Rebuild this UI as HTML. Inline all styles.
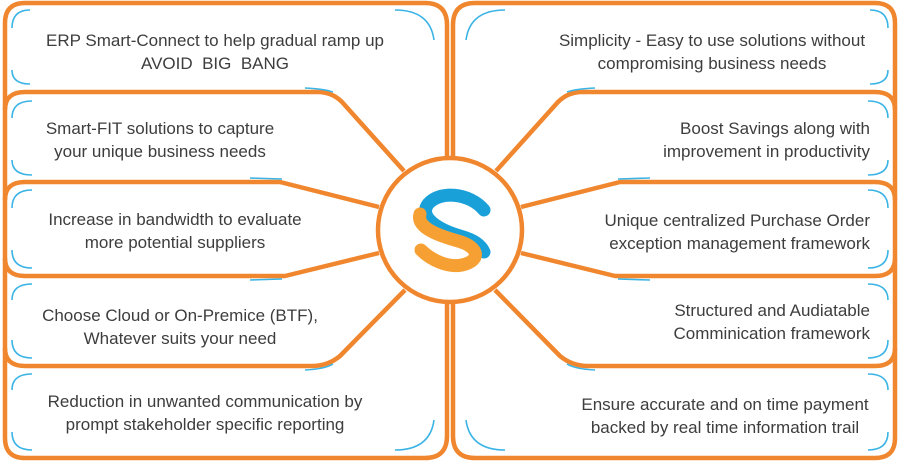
<!DOCTYPE html>
<html><head><meta charset="utf-8"><style>
html,body{margin:0;padding:0;background:#fff;}
svg{display:block}
text{font-family:"Liberation Sans","DejaVu Sans",sans-serif;font-size:17px;fill:#3d3d3d;white-space:pre;}
</style></head><body>
<svg width="900" height="461" viewBox="0 0 900 461" xmlns="http://www.w3.org/2000/svg">
<g fill="none" stroke="#f0862e" stroke-width="4.5" stroke-linejoin="round">
<path d="M447,157 L447,25 Q447,3 425,3 L25,3 Q5,3 5,23 L5,438 Q5,458 25,458 L425,458 Q447,458 447,436 L447,303"/>
<path d="M453,157 L453,25 Q453,3 475,3 L875,3 Q895,3 895,23 L895,438 Q895,458 875,458 L475,458 Q453,458 453,436 L453,303"/>
<path d="M5,110 Q5,92 25,92 L318,92 Q332,92 342,102 L404,171"/>
<path d="M5,200 Q5,182 25,182 L280,182 L379,207"/>
<path d="M5,258 Q5,276 25,276 L285,276 L379,253"/>
<path d="M5,348 Q5,366 25,366 L312,366 Q328,366 340,356 L405,290"/>
<path d="M895,110 Q895,92 875,92 L582,92 Q568,92 558,102 L496,171"/>
<path d="M895,200 Q895,182 875,182 L620,182 L521,207"/>
<path d="M895,258 Q895,276 875,276 L615,276 L521,253"/>
<path d="M895,348 Q895,366 875,366 L588,366 Q572,366 560,356 L495,290"/>
<circle cx="450" cy="230" r="72" fill="#fff"/>
</g>
<g fill="none" stroke="#3bb4e5" stroke-width="1.6">
<path d="M12,28 Q12,10 30,10"/><path d="M12,70 Q12,84 30,84"/>
<path d="M12,118 Q12,101 32,101"/><path d="M12,160 Q12,175 32,175"/>
<path d="M12,208 Q12,190 32,190"/><path d="M12,250 Q12,268 32,268"/>
<path d="M12,300 Q12,284 32,284"/><path d="M12,340 Q12,358 32,358"/>
<path d="M12,390 Q12,374 32,374"/><path d="M12,432 Q12,450 32,450"/>
<path d="M888,28 Q888,10 870,10"/><path d="M888,70 Q888,84 870,84"/>
<path d="M888,118 Q888,101 868,101"/><path d="M888,160 Q888,175 868,175"/>
<path d="M888,208 Q888,190 868,190"/><path d="M888,250 Q888,268 868,268"/>
<path d="M888,300 Q888,284 868,284"/><path d="M888,340 Q888,358 868,358"/>
<path d="M888,390 Q888,374 868,374"/><path d="M888,432 Q888,450 868,450"/>
<path d="M395,10 Q430,10 434,40"/><path d="M505,10 Q470,10 466,40"/>
<path d="M305,88 Q325,89 333,92"/><path d="M595,88 Q575,89 567,92"/>
<path d="M250,178 L282,179"/><path d="M650,178 L618,179"/>
<path d="M250,280 L282,279"/><path d="M650,280 L618,279"/>
<path d="M305,370 Q325,369 333,364"/><path d="M595,370 Q575,369 567,364"/>
<path d="M395,450 Q430,450 434,420"/><path d="M505,450 Q470,450 466,420"/>
</g>
<g fill="none" stroke-linecap="round">
<path d="M484,210 C470,193 440,190 428,204 C418,218 440,230 460,236 C474,240 481,245 484,252" stroke="#1aa0d8" stroke-width="13"/>
<path d="M420,214 C416,228 440,236 458,241 C480,247 481,261 462,265 C448,268 431,260 421,250" stroke="#f6a033" stroke-width="13"/>
</g>
<g>
<text x="215" y="46" text-anchor="middle">ERP Smart-Connect to help gradual ramp up</text>
<text x="215" y="69" text-anchor="middle">AVOID  BIG  BANG</text>
<text x="160" y="134" text-anchor="middle">Smart-FIT solutions to capture</text>
<text x="160" y="157" text-anchor="middle">your unique business needs</text>
<text x="175" y="225" text-anchor="middle">Increase in bandwidth to evaluate</text>
<text x="175" y="248" text-anchor="middle">more potential suppliers</text>
<text x="180" y="321" text-anchor="middle">Choose Cloud or On-Premice (BTF),</text>
<text x="180" y="344" text-anchor="middle">Whatever suits your need</text>
<text x="205" y="407" text-anchor="middle">Reduction in unwanted communication by</text>
<text x="205" y="430" text-anchor="middle">prompt stakeholder specific reporting</text>
<text x="712" y="46" text-anchor="middle">Simplicity - Easy to use solutions without</text>
<text x="712" y="69" text-anchor="middle">compromising business needs</text>
<text x="870" y="134" text-anchor="end">Boost Savings along with</text>
<text x="870" y="157" text-anchor="end">improvement in productivity</text>
<text x="870" y="226" text-anchor="end">Unique centralized Purchase Order</text>
<text x="870" y="249" text-anchor="end">exception management framework</text>
<text x="870" y="316" text-anchor="end">Structured and Audiatable</text>
<text x="870" y="339" text-anchor="end">Comminication framework</text>
<text x="725" y="410" text-anchor="middle">Ensure accurate and on time payment</text>
<text x="725" y="433" text-anchor="middle">backed by real time information trail</text>
</g>
</svg>
</body></html>
